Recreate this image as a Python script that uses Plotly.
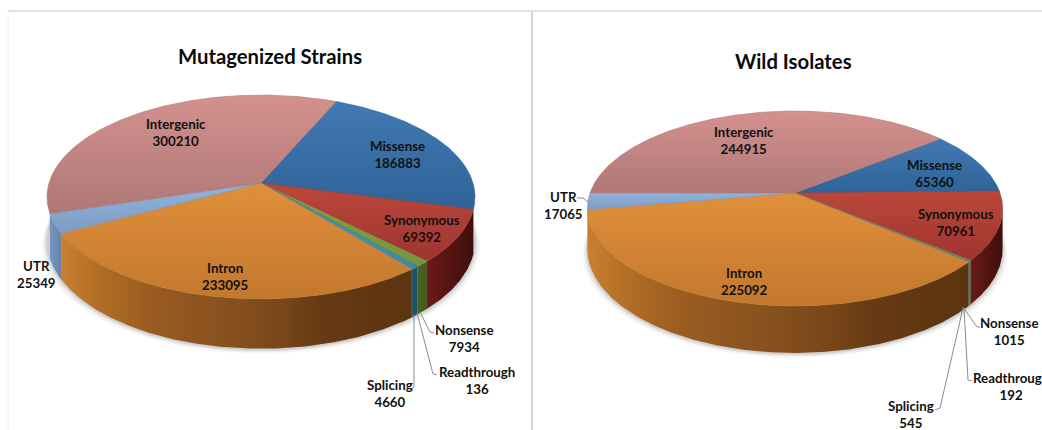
import numpy as np
import plotly.graph_objects as go

# Variant counts per functional class, in the clockwise drawing order of the slices
categories = ["Missense", "Synonymous", "Nonsense", "Readthrough",
              "Splicing", "Intron", "UTR", "Intergenic"]
mutagenized_values = [186883, 69392, 7934, 136, 4660, 233095, 25349, 300210]
wild_values = [65360, 70961, 1015, 192, 545, 225092, 17065, 244915]

# Office-style palette: top face gradient (upper, lower) and side wall gradient (left, right)
top_colors = {
    "Missense": ("#4279B3", "#2F6398"),
    "Synonymous": ("#BC473B", "#9E3530"),
    "Nonsense": ("#84A344", "#769539"),
    "Readthrough": ("#7A5F9E", "#6F548F"),
    "Splicing": ("#4499B3", "#3A8CA5"),
    "Intron": ("#E0903A", "#C3782E"),
    "UTR": ("#92B3DB", "#7C9CC4"),
    "Intergenic": ("#D4918E", "#AE7877"),
}
wall_colors = {
    "Synonymous": ("#6A1B19", "#3F0E0C"),
    "Nonsense": ("#4D6325", "#445820"),
    "Readthrough": ("#47385E", "#3F3254"),
    "Splicing": ("#215A6C", "#1B4F60"),
    "UTR": ("#7596C0", "#6684A8"),
}
intron_wall_stops = [[0, "#C87F30"], [0.12, "#B06C25"], [0.25, "#9A5C20"], [0.38, "#8F5520"],
                     [0.5, "#85501D"], [0.62, "#7A4719"], [0.75, "#663A14"], [1, "#5C3410"]]

# Perspective disc: apex position, half axes, foreshortening and wall height
left_disc = dict(cx=261, cy=183, a=212, b=100, k=-0.137, h=43.0, start=23.5)
right_disc = dict(cx=795, cy=193, a=205, b=95, k=-0.159, h=39.5, start=51.2)

left_labels = {
    "Intergenic": (176, 132), "Missense": (397, 154), "Synonymous": (422, 228),
    "Intron": (225, 276), "UTR": (36, 274), "Nonsense": (464, 338),
    "Readthrough": (477, 380), "Splicing": (390, 393),
}
right_labels = {
    "Intergenic": (744, 140), "Missense": (934, 173), "Synonymous": (956, 222),
    "Intron": (744, 281), "UTR": (563, 205), "Nonsense": (1009, 331),
    "Readthrough": (1011, 386), "Splicing": (911, 414),
}
left_leaders = [
    [(420, 312), (430, 332), (434, 333)],
    [(417, 313), (433, 374), (437, 375)],
    [(414, 315), (414, 387), (412, 388)],
]
right_leaders = [
    [(963, 307), (977, 327), (980, 327)],
    [(964, 308), (968, 380), (972, 381)],
    [(963, 308), (940, 408), (935, 410)],
    [(577, 198), (583, 198), (588, 202)],
]
FONT = "Lato, Carlito, Calibri, sans-serif"


def rim(disc, deg):
    """Project clockwise angles (0 = far side) onto the tilted disc."""
    t = np.radians(deg)
    u, v = np.sin(t), -np.cos(t)
    w = 1 + disc["k"] * v
    return disc["cx"] + disc["a"] * u / w, disc["cy"] + disc["b"] * v / w, disc["h"] / w


def arc(start, stop, step=0.5):
    n = max(int(abs(stop - start) / step), 1) + 1
    return np.linspace(start, stop, n)


def polygon(x, y, colors=None, kind="vertical", stops=None, edge=None):
    args = dict(x=list(x), y=list(y), mode="lines", fill="toself",
                hoverinfo="skip", showlegend=False)
    scale = stops or [[0, colors[0]], [1, colors[1]]]
    args["fillgradient"] = dict(type=kind, colorscale=scale)
    args["line"] = dict(width=0.6, color=edge) if edge else dict(width=0)
    return go.Scatter(**args)


def add_pie(fig, disc, values):
    total = sum(values)
    sweeps = [v / total * 360 for v in values]
    bounds = disc["start"] + np.concatenate([[0], np.cumsum(sweeps)])

    # Soft ground shadow under the front of the disc
    ring = arc(0, 360, 2)
    rx, ry, rh = rim(disc, ring)
    for grow, alpha in [(5, 0.035), (3.5, 0.05), (2, 0.07), (1, 0.09)]:
        sx = disc["cx"] + (rx - disc["cx"]) * (1 + grow / disc["a"])
        sy = ry + rh + 1 + grow * 0.8
        fig.add_trace(go.Scatter(x=list(sx), y=list(sy), mode="lines", fill="toself",
                                 fillcolor=f"rgba(50,50,50,{alpha})", line=dict(width=0),
                                 hoverinfo="skip", showlegend=False))

    # Side walls first, then the top faces over them; the far slices show no wall
    for i, name in enumerate(categories):
        if name in ("Missense", "Intergenic"):
            continue
        lo, hi = max(bounds[i], 98), min(bounds[i + 1], 262)
        if hi <= lo:
            continue
        x, y, h = rim(disc, arc(lo, hi))
        px = np.concatenate([x, x[::-1]])
        py = np.concatenate([y, (y + h)[::-1]])
        if name == "Intron":
            fig.add_trace(polygon(px, py, kind="horizontal", stops=intron_wall_stops))
        else:
            fig.add_trace(polygon(px, py, wall_colors[name], "horizontal"))

    # The y axis is reversed, so the face gradients list the lower colour first
    for i, name in enumerate(categories):
        x, y, _ = rim(disc, arc(bounds[i], bounds[i + 1]))
        px = np.concatenate([[disc["cx"]], x, [disc["cx"]]])
        py = np.concatenate([[disc["cy"]], y, [disc["cy"]]])
        upper, lower = top_colors[name]
        fig.add_trace(polygon(px, py, (lower, upper), "vertical", edge=lower))


def add_labels(fig, labels, values):
    for name, value in zip(categories, values):
        x, y = labels[name]
        fig.add_annotation(x=x, y=y, text=f"<b>{name}<br>{value}</b>", showarrow=False,
                           xanchor="center", yanchor="middle",
                           font=dict(family=FONT, size=13.3, color="#111111"))


def add_leaders(fig, leaders):
    for path in leaders:
        fig.add_trace(go.Scatter(x=[p[0] for p in path], y=[p[1] for p in path], mode="lines",
                                 line=dict(color="#8C8C8C", width=1),
                                 hoverinfo="skip", showlegend=False))


fig = go.Figure()
add_pie(fig, left_disc, mutagenized_values)
add_pie(fig, right_disc, wild_values)
add_leaders(fig, left_leaders)
add_leaders(fig, right_leaders)
add_labels(fig, left_labels, mutagenized_values)
add_labels(fig, right_labels, wild_values)

for text, x, y in [("Mutagenized Strains", 270, 56), ("Wild Isolates", 793, 61)]:
    fig.add_annotation(x=x, y=y, text=f"<b>{text}</b>", showarrow=False,
                       font=dict(family=FONT, size=20.3, color="#0A0A0A"))

# Panel frame
frame = [((8, 11), (1042, 11), "#D9D9D9", 1.5), ((532, 11), (532, 430), "#D4D4D4", 2),
         ((8, 11), (8, 430), "#F0F0F0", 1)]
for (x0, y0), (x1, y1), color, width in frame:
    fig.add_shape(type="line", x0=x0, y0=y0, x1=x1, y1=y1, layer="below",
                  line=dict(color=color, width=width))

fig.update_layout(
    width=1042, height=430, margin=dict(l=0, r=0, t=0, b=0),
    paper_bgcolor="white", plot_bgcolor="white", showlegend=False,
    xaxis=dict(range=[0, 1042], visible=False, fixedrange=True),
    yaxis=dict(range=[430, 0], visible=False, fixedrange=True),
)
fig.write_html("out.html", config=dict(displayModeBar=False))
